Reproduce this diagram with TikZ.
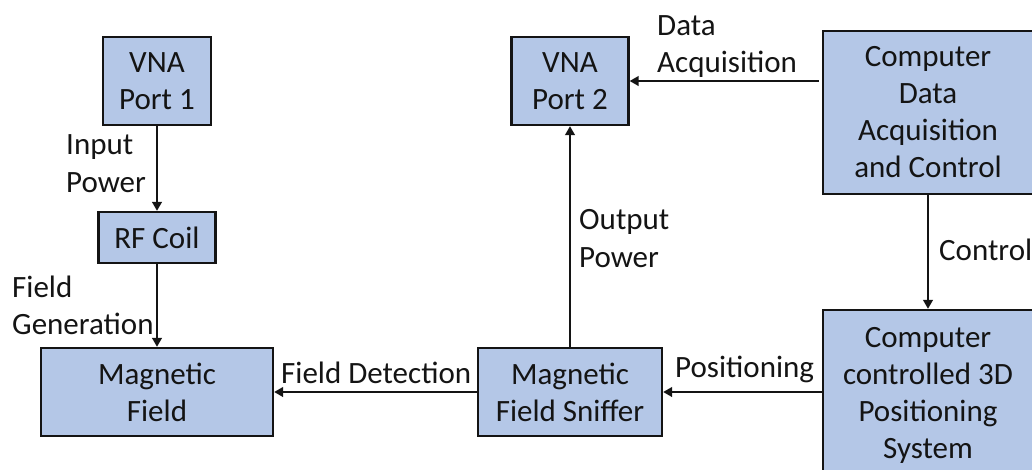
\documentclass[tikz,border=0pt]{standalone}
\usepackage{fontspec}
\setmainfont{Carlito}
\usetikzlibrary{arrows.meta}
\definecolor{boxfill}{HTML}{B4C7E7}
\definecolor{ink}{HTML}{141414}
\tikzset{
 x=1pt,y=-1pt,
 blockbox/.style={draw=ink,line width=2.2pt,fill=boxfill,align=center,font=\fontsize{31}{37}\selectfont,text=ink,inner sep=0pt},
 lbl/.style={anchor=base west,font=\fontsize{31}{37}\selectfont,text=ink,inner sep=0pt},
 conn/.style={draw=ink,line width=2.3pt,-{Triangle[length=9pt,width=9.5pt]}}
}
\begin{document}
\begin{tikzpicture}
\useasboundingbox (0,0) rectangle (1032,469);
\node[blockbox,minimum width=108pt,minimum height=88pt] (p1) at (157,81) {VNA\\Port 1};
\node[blockbox,minimum width=117pt,minimum height=51pt] (rf) at (157,237.5) {RF Coil};
\node[blockbox,minimum width=232pt,minimum height=88pt] (mf) at (157,392) {Magnetic\\Field};
\node[blockbox,minimum width=117pt,minimum height=88pt] (p2) at (570,81) {VNA\\Port 2};
\node[blockbox,minimum width=210pt,minimum height=163pt] (cd) at (928,112.5) {Computer\\Data\\Acquisition\\and Control};
\node[blockbox,minimum width=210pt,minimum height=170pt] (cp) at (928,395) {Computer\\controlled 3D\\Positioning\\System};
\node[blockbox,minimum width=184pt,minimum height=88pt] (ms) at (570,392) {Magnetic\\Field Sniffer};
\draw[conn] (p1) -- (rf);
\draw[conn] (rf) -- (mf);
\draw[conn] (ms) -- (mf);
\draw[conn] (ms) -- (p2);
\draw[conn,shorten <=3pt] (cd.west |- p2) -- (p2);
\draw[conn] (cd) -- (cp);
\draw[conn] (cp.west |- ms) -- (ms);
\node[lbl] (a) at (66,154) {Input};
\node[lbl] (b) at (66,192) {Power};
\node[lbl] (c) at (12,297) {Field};
\node[lbl] (d) at (12,334) {Generation};
\node[lbl] (e) at (281,383) {Field Detection};
\node[lbl] (f) at (675,377) {Positioning};
\node[lbl] (g) at (579,229) {Output};
\node[lbl] (h) at (579,267) {Power};
\node[lbl] (i) at (657,35) {Data};
\node[lbl] (j) at (657,72) {Acquisition};
\node[lbl] (k) at (939,260) {Control};
\end{tikzpicture}
\end{document}
